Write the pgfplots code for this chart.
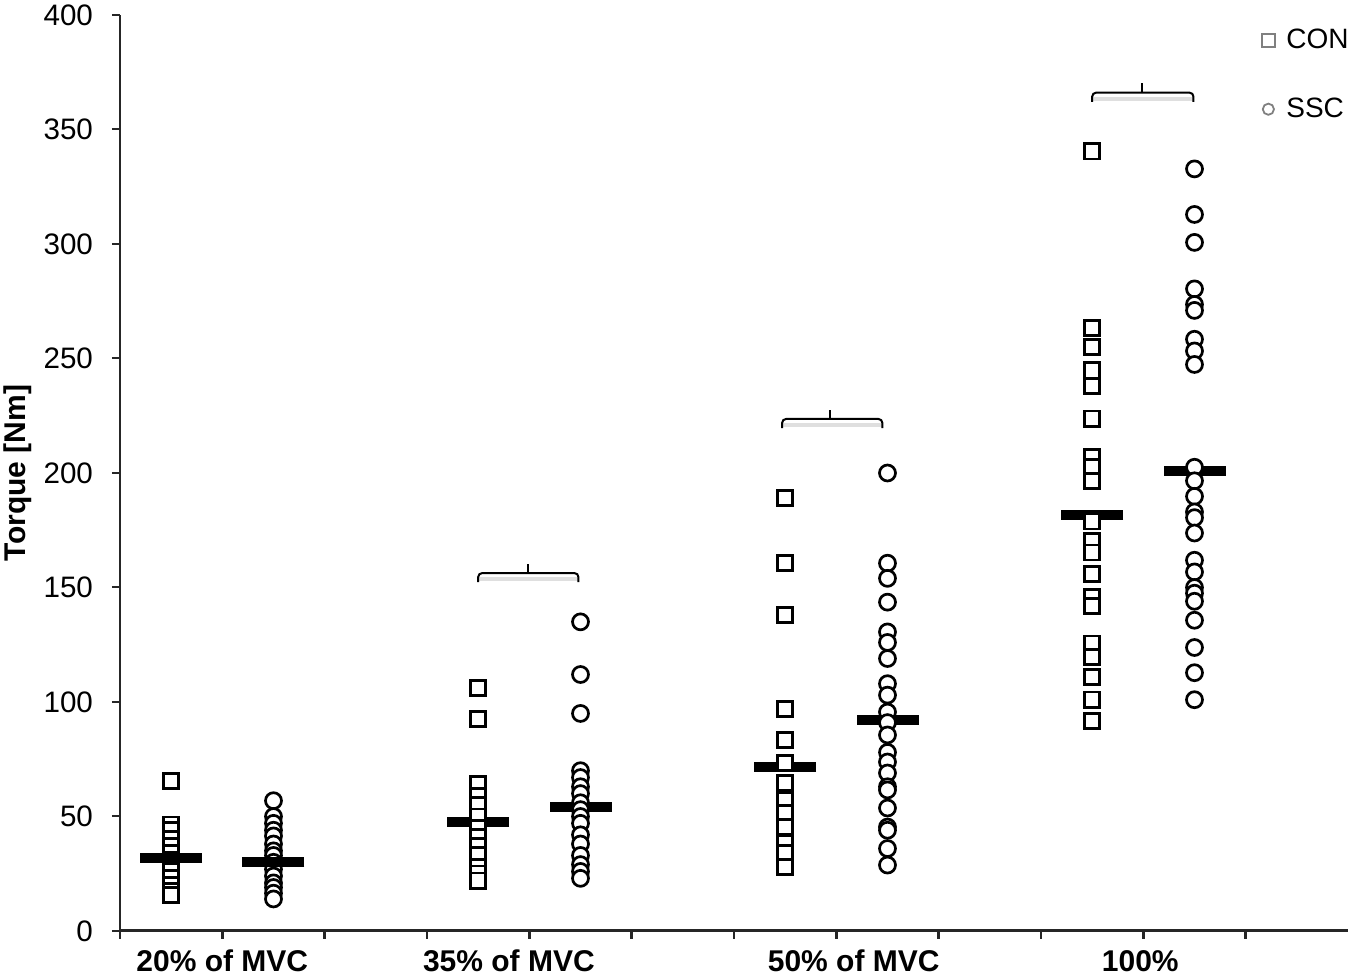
\documentclass[border=0pt]{standalone}
\usepackage{pgfplots}
\pgfplotsset{compat=1.18}
\usepackage{pgfplotstable}
\usepackage{fontspec}
\setmainfont{Liberation Sans}

\pgfplotstableread{
x y
0.5 65.5
0.5 46.5
0.5 44
0.5 40
0.5 37
0.5 34
0.5 31
0.5 29
0.5 26
0.5 23
0.5 20
0.5 17.5
0.5 15.7
3.5 106.2
3.5 92.6
3.5 64
3.5 59
3.5 55
3.5 50
3.5 45
3.5 41
3.5 37
3.5 33
3.5 28
3.5 25
3.5 22
6.5 189
6.5 160.6
6.5 138
6.5 97
6.5 83.4
6.5 73.4
6.5 64.6
6.5 57
6.5 51.5
6.5 45.4
6.5 38.4
6.5 34
6.5 28
9.5 340.5
9.5 263.4
9.5 255
9.5 244.8
9.5 238
9.5 223.7
9.5 206.8
9.5 202.5
9.5 196.6
9.5 178.8
9.5 170.3
9.5 165.3
9.5 156
9.5 145.9
9.5 142
9.5 125.5
9.5 119.6
9.5 111
9.5 101
9.5 91.7
}\con

\pgfplotstableread{
x y
1.5 56.9
1.5 50
1.5 47
1.5 44
1.5 41.5
1.5 38
1.5 35
1.5 33
1.5 30
1.5 27
1.5 24
1.5 21
1.5 19
1.5 16.5
1.5 14
4.5 135
4.5 112
4.5 95
4.5 70
4.5 67
4.5 63
4.5 60
4.5 56
4.5 53
4.5 50
4.5 47
4.5 42
4.5 38
4.5 33
4.5 29
4.5 26
4.5 23
7.5 200
7.5 160.6
7.5 154
7.5 143.6
7.5 130.6
7.5 126
7.5 119
7.5 108
7.5 103
7.5 95.6
7.5 91
7.5 85.6
7.5 78
7.5 73.8
7.5 69
7.5 63
7.5 61.6
7.5 53.7
7.5 45.4
7.5 44
7.5 36
7.5 28.8
10.5 332.8
10.5 312.9
10.5 300.7
10.5 280.4
10.5 273.6
10.5 271
10.5 258.4
10.5 253.3
10.5 247.4
10.5 202.5
10.5 196.6
10.5 189.8
10.5 183
10.5 180.5
10.5 173.8
10.5 161.9
10.5 156.8
10.5 150
10.5 147.5
10.5 144
10.5 135.7
10.5 123.8
10.5 112.8
10.5 101
}\ssc

\pgfplotstableread{
x y
3.5 47.5
4.5 54.3
6.5 71.7
7.5 92
9.5 181.7
10.5 200.9
}\medhigh

\pgfplotstableread{
x y
0.5 32
1.5 30.3
}\medlow

\begin{document}
\begin{tikzpicture}
\path[use as bounding box] (-60pt,-24pt) rectangle (617.5pt,465.5pt);
\begin{axis}[
  at={(0,0)}, anchor=south west,
  scale only axis, width=614pt, height=458pt,
  xmin=0, xmax=12, ymin=0, ymax=400,
  axis x line*=bottom, axis y line*=left,
  clip=false,
  xtick={0,1,...,11}, xticklabels={},
  ytick={0,50,...,400},
  tick align=outside, major tick length=4pt,
  /pgf/number format/assume math mode=true,
  yticklabel style={font=\fontsize{14.8}{17}\selectfont, black, xshift=-6pt},
  x axis line style={line width=1.5pt, black!85},
  y axis line style={line width=1pt, black!85},
  xtick style={line width=1.2pt, black!85},
  ytick style={line width=1pt, black!85},
  ylabel={Torque [Nm]},
  ylabel style={at={(axis description cs:-0.0831,0.5)}, anchor=center, font=\bfseries\fontsize{15}{18}\selectfont},
  legend style={draw=none, fill=none, at={(1.0,1.0)}, anchor=north east,
    xshift=2.5pt, yshift=-5pt,
    font=\fontsize{14}{17}\selectfont, row sep=19pt, inner sep=0pt,
    nodes={inner sep=2pt}},
  legend cell align=left,
  legend image code/.code={\draw[#1] plot coordinates {(0pt,0pt)}; \path[draw=none,fill=none] (0pt,0pt) -- (7pt,0pt);},
]
\addlegendimage{only marks, mark=square, mark size=3.2pt, gray, line width=0.9pt}
\addlegendentry{CON}
\addlegendimage{only marks, mark=o, mark size=2.8pt, gray, line width=0.9pt}
\addlegendentry{SSC}

% median bars drawn below markers
\addplot[only marks, mark=-, mark size=15.5pt, line width=5pt, black, forget plot] table {\medhigh};
\addplot[only marks, mark=square*, mark size=3.8pt, mark options={fill=white, draw=black, line width=1.35pt}, forget plot] table {\con};
\addplot[only marks, mark=*, mark size=4pt, mark options={fill=white, draw=black, line width=1.35pt}, forget plot] table {\ssc};
\addplot[only marks, mark=-, mark size=15.5pt, line width=5pt, black, forget plot] table {\medlow};

% significance brackets
\draw[gray!25, line width=2pt] ([yshift=-3pt]axis cs:3.5,156.3) -- ([yshift=-3pt]axis cs:4.48,156.3);
\draw[black, line width=1pt, rounded corners=2pt] (axis cs:3.5,152.3) |- (axis cs:4.48,156.3) -- (axis cs:4.48,152.3);
\draw[black, line width=1pt] (axis cs:3.99,156.3) -- (axis cs:3.99,160.3);

\draw[gray!25, line width=2pt] ([yshift=-3pt]axis cs:6.47,223.6) -- ([yshift=-3pt]axis cs:7.45,223.6);
\draw[black, line width=1pt, rounded corners=2pt] (axis cs:6.47,219.6) |- (axis cs:7.45,223.6) -- (axis cs:7.45,219.6);
\draw[black, line width=1pt] (axis cs:6.94,223.6) -- (axis cs:6.94,227.6);

\draw[gray!25, line width=2pt] ([yshift=-3pt]axis cs:9.5,366.1) -- ([yshift=-3pt]axis cs:10.49,366.1);
\draw[black, line width=1pt, rounded corners=2pt] (axis cs:9.5,362.1) |- (axis cs:10.49,366.1) -- (axis cs:10.49,362.1);
\draw[black, line width=1pt] (axis cs:9.99,366.1) -- (axis cs:9.99,370.1);

% category labels
\node[font=\bfseries\fontsize{15}{18}\selectfont, anchor=base, yshift=-20.5pt] at (axis cs:1,0) {20\% of MVC};
\node[font=\bfseries\fontsize{15}{18}\selectfont, anchor=base, yshift=-20.5pt] at (axis cs:3.8,0) {35\% of MVC};
\node[font=\bfseries\fontsize{15}{18}\selectfont, anchor=base, yshift=-20.5pt] at (axis cs:7.17,0) {50\% of MVC};
\node[font=\bfseries\fontsize{15}{18}\selectfont, anchor=base, yshift=-20.5pt] at (axis cs:9.97,0) {100\%};
\end{axis}
\end{tikzpicture}
\end{document}
